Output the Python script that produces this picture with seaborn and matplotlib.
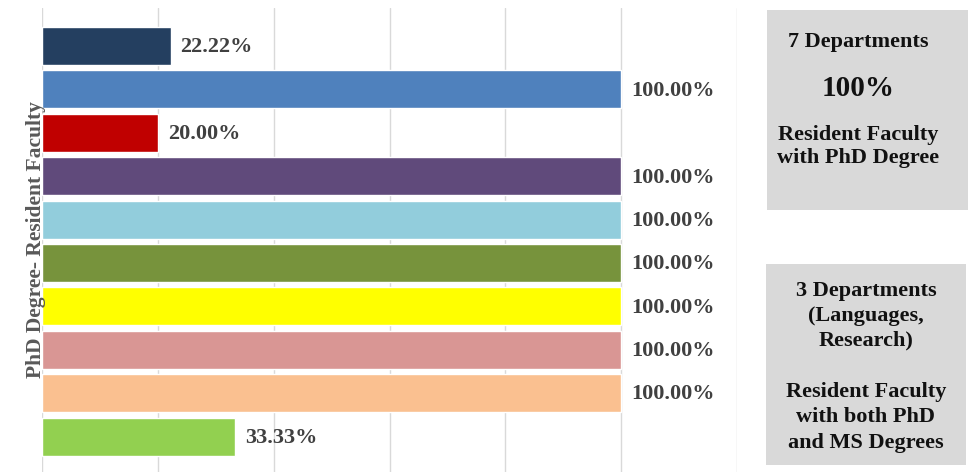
import matplotlib
matplotlib.use("Agg")
import matplotlib.pyplot as plt
import seaborn as sns
import pandas as pd
from matplotlib.patches import Rectangle

categories = ["Dept 1", "Dept 2", "Dept 3", "Dept 4", "Dept 5",
              "Dept 6", "Dept 7", "Dept 8", "Dept 9", "Dept 10"]
phd_share = [22.22, 100.00, 20.00, 100.00, 100.00,
             100.00, 100.00, 100.00, 100.00, 33.33]
bar_colors = ["#243F60", "#4F81BD", "#C00000", "#604A7B", "#92CDDC",
              "#77933C", "#FFFF00", "#D99694", "#FAC090", "#92D050"]
box1_lines = ["7 Departments", "100%", "Resident Faculty", "with PhD Degree"]
box2_lines = ["3 Departments", "(Languages,", "Research)", "",
              "Resident Faculty", "with both PhD", "and MS Degrees"]
y_title = "PhD Degree- Resident Faculty"

df = pd.DataFrame({"cat": categories, "val": phd_share})

sns.set_theme(style="white")
plt.rcParams["font.family"] = ["Liberation Serif", "DejaVu Serif"]

W, H = 975, 472
fig = plt.figure(figsize=(W / 100, H / 100), dpi=100)
ax = fig.add_axes([42 / W, 0, (737 - 42) / W, 1 - 8 / H])

sns.barplot(data=df, y="cat", x="val", hue="cat", palette=bar_colors,
            order=categories, hue_order=categories, orient="h",
            width=0.875, legend=False, ax=ax, saturation=1)

ax.set_xlim(0, 120)
ax.set_ylim(9.816, -0.876)
ax.set_xticks([0, 20, 40, 60, 80, 100, 120])
ax.set_xticklabels([])
ax.set_yticks([])
ax.grid(axis="x", color="#D9D9D9", linewidth=1)
ax.set_axisbelow(True)
for s in ax.spines.values():
    s.set_visible(False)
ax.tick_params(length=0)
ax.set_xlabel("")
ax.set_ylabel("")

for i, v in enumerate(phd_share):
    ax.text(v + 1.7, i + 0.03, f"{v:.2f}%", va="center", ha="left",
            fontsize=16, fontweight="bold", color="#404040")

fig.text(36 / W, 1 - 240 / H, y_title, rotation=90, ha="center", va="center",
         fontsize=15.5, fontweight="bold", color="#595959")

# side boxes
fig.patches.append(Rectangle((767 / W, 1 - 210 / H), 201 / W, 200 / H,
                             transform=fig.transFigure, facecolor="#D9D9D9",
                             edgecolor="none", zorder=0))
fig.patches.append(Rectangle((766 / W, 1 - 465 / H), 200 / W, 201 / H,
                             transform=fig.transFigure, facecolor="#D9D9D9",
                             edgecolor="none", zorder=0))

box1_y = [42, 88, 135, 158]
box1_sz = [16, 21, 16, 16]
for t, yy, sz in zip(box1_lines, box1_y, box1_sz):
    fig.text(858 / W, 1 - yy / H, t, ha="center", va="center",
             fontsize=sz, fontweight="bold", color="#111111")

box2_y = [291, 316, 340, 366, 392, 417, 443]
for t, yy in zip(box2_lines, box2_y):
    if t:
        fig.text(866 / W, 1 - yy / H, t, ha="center", va="center",
                 fontsize=16, fontweight="bold", color="#111111")

fig.savefig("out.png", dpi=100)
